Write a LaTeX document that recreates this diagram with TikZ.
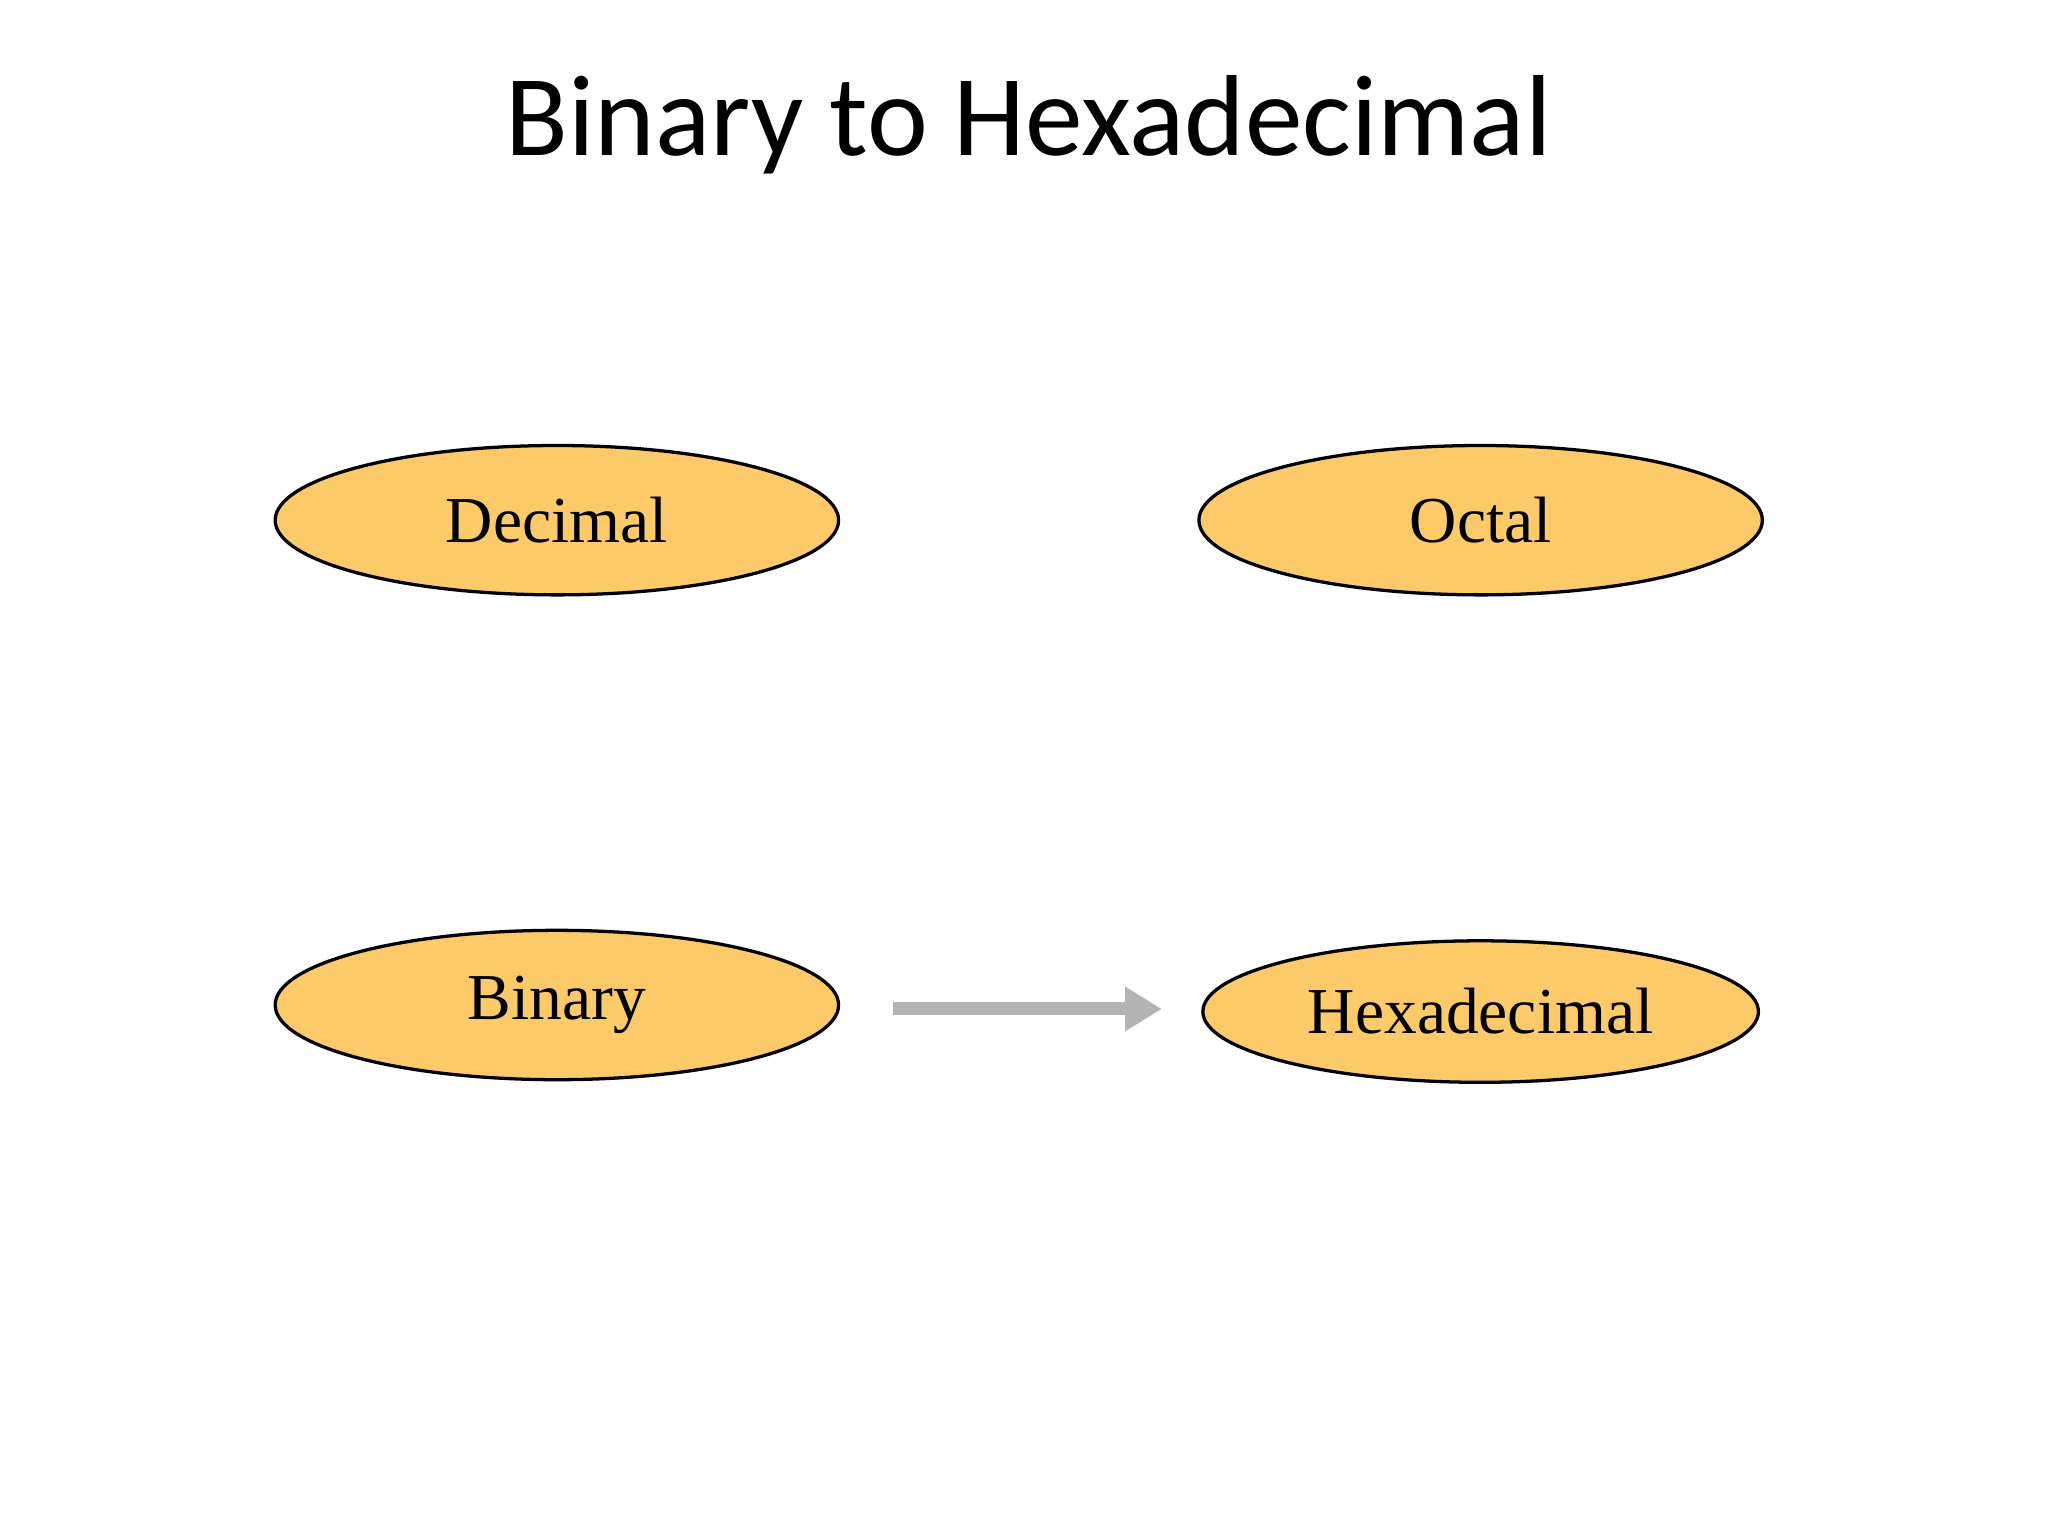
\documentclass[tikz,border=0pt]{standalone}
\usepackage{fontspec}
\setmainfont{Liberation Serif}
\newfontfamily\titlefont{Carlito}
\usetikzlibrary{shapes.geometric,arrows.meta}
\definecolor{fillc}{HTML}{FDCA6A}
\definecolor{arrc}{HTML}{B3B3B3}
\tikzset{
  oval/.style={ellipse,draw=black,line width=2.5pt,fill=fillc,minimum width=430pt,minimum height=114pt,inner sep=0pt,font=\fontsize{50}{56}\selectfont},
  conv/.style={draw=arrc,line width=10pt,-{Triangle[length=28pt,width=32pt]}}
}
\begin{document}
\begin{tikzpicture}[x=1pt,y=-1pt]
\useasboundingbox[fill=white] (0,0) rectangle (1563,1172);
\node[font=\titlefont\fontsize{88}{96}\selectfont] (title) at (785,95) {Binary to Hexadecimal};
\node[oval] (dec) at (425,397) {Decimal};
\node[oval] (oct) at (1130,397) {Octal};
\node[oval] (bin) at (425,767) {Binary};
\node[oval,minimum width=424pt,minimum height=108pt] (hex) at (1130,772) {Hexadecimal};
\draw[conv,shorten <=40pt,shorten >=30pt] (bin.east |- 0,770) -- (hex.west |- 0,770);
\end{tikzpicture}
\end{document}
